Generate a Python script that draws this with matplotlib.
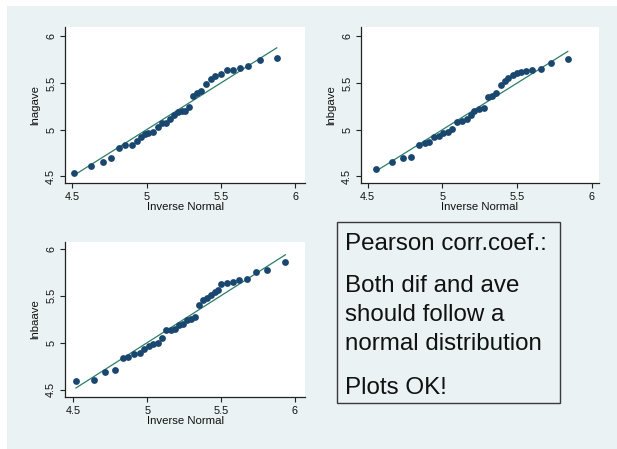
import matplotlib
matplotlib.use("Agg")
import matplotlib.pyplot as plt
from matplotlib.patches import Rectangle

plt.rcParams["font.family"] = ["Liberation Sans", "DejaVu Sans"]

# Normal quantile plots: inverse-normal quantiles vs sorted log values
inv_norm_ag = [4.511, 4.628, 4.709, 4.760, 4.812, 4.857, 4.902, 4.933, 4.960, 4.987,
               5.013, 5.045, 5.076, 5.103, 5.130, 5.157, 5.184, 5.211, 5.238, 5.261,
               5.288, 5.310, 5.338, 5.365, 5.400, 5.432, 5.459, 5.499, 5.540, 5.580,
               5.630, 5.686, 5.764, 5.877]
lnagave = [4.536, 4.614, 4.649, 4.692, 4.799, 4.841, 4.841, 4.884, 4.927, 4.955,
           4.962, 4.976, 5.026, 5.069, 5.076, 5.119, 5.161, 5.190, 5.204, 5.204,
           5.239, 5.360, 5.389, 5.410, 5.488, 5.545, 5.574, 5.595, 5.638, 5.638,
           5.666, 5.680, 5.744, 5.773]

inv_norm_bg = [4.558, 4.662, 4.740, 4.793, 4.842, 4.882, 4.913, 4.944, 4.976, 5.007,
               5.038, 5.064, 5.096, 5.131, 5.162, 5.189, 5.211, 5.242, 5.278, 5.304,
               5.331, 5.358, 5.393, 5.416, 5.442, 5.469, 5.496, 5.527, 5.558, 5.602,
               5.660, 5.727, 5.838]
lnbgave = [4.582, 4.649, 4.692, 4.706, 4.841, 4.855, 4.870, 4.919, 4.934, 4.962,
           4.976, 5.012, 5.083, 5.090, 5.119, 5.161, 5.204, 5.218, 5.232, 5.346,
           5.360, 5.396, 5.474, 5.524, 5.552, 5.581, 5.602, 5.623, 5.630, 5.638,
           5.652, 5.716, 5.758]

inv_norm_ba = [4.518, 4.640, 4.717, 4.780, 4.834, 4.870, 4.911, 4.951, 4.978, 5.010,
               5.041, 5.072, 5.099, 5.126, 5.158, 5.189, 5.217, 5.244, 5.267, 5.298,
               5.321, 5.353, 5.375, 5.402, 5.429, 5.456, 5.479, 5.502, 5.538, 5.578,
               5.619, 5.678, 5.736, 5.813, 5.935]
lnbaave = [4.589, 4.606, 4.684, 4.713, 4.840, 4.847, 4.883, 4.890, 4.933, 4.968,
           4.982, 4.996, 5.046, 5.131, 5.131, 5.145, 5.188, 5.195, 5.238, 5.252,
           5.273, 5.401, 5.457, 5.479, 5.507, 5.543, 5.564, 5.628, 5.635, 5.649,
           5.663, 5.677, 5.748, 5.777, 5.862]

ticks = [4.5, 5, 5.5, 6]
tick_labels = ["4.5", "5", "5.5", "6"]
x_title = "Inverse Normal"

note_lines = ["Pearson corr.coef.:", "Both dif and ave", "should follow a",
              "normal distribution", "Plots OK!"]

BG = "#EAF2F3"
NAVY = "#1A476F"
REF = "#2C7D66"
AXC = "#222222"

W, H = 617, 449
fig = plt.figure(figsize=(W / 100, H / 100), dpi=100, facecolor="white")

# graph region background, kept behind every axes
fig.patches.append(Rectangle((7 / W, 0), 1 - 7 / W, (H - 6) / H,
                             transform=fig.transFigure, facecolor=BG,
                             edgecolor="none", zorder=-10))


def px_axes(left, top, right, bottom):
    return [left / W, (H - bottom) / H, (right - left) / W, (bottom - top) / H]


def qq_panel(rect, xs, ys, ylabel, xlim, ylim):
    ax = fig.add_axes(rect)
    ax.set_zorder(2)
    ax.set_facecolor("white")
    lo, hi = min(xs), max(xs)
    ax.plot([lo, hi], [lo, hi], color=REF, lw=0.9, zorder=2)
    ax.plot(xs, ys, "o", color=NAVY, ms=4.9, mec=NAVY, mew=0, zorder=3)
    ax.set_xlim(*xlim)
    ax.set_ylim(*ylim)
    ax.set_xticks(ticks)
    ax.set_xticklabels(tick_labels)
    ax.set_yticks(ticks)
    ax.set_yticklabels(tick_labels, rotation=90, va="center")
    for s in ("top", "right"):
        ax.spines[s].set_visible(False)
    for s in ("left", "bottom"):
        ax.spines[s].set_color(AXC)
        ax.spines[s].set_linewidth(0.9)
    ax.tick_params(axis="both", direction="out", length=3.8, width=0.8,
                   color=AXC, labelsize=7.8, labelcolor="#111111")
    ax.tick_params(axis="x", pad=2.5)
    ax.tick_params(axis="y", pad=2.5)
    ax.set_xlabel(x_title, fontsize=8.2, labelpad=0.5, color="#111111")
    ax.set_ylabel(ylabel, fontsize=8.2, labelpad=4, color="#111111")
    return ax


qq_panel(px_axes(65, 27, 305, 183), inv_norm_ag, lnagave, "lnagave",
         (4.451, 6.067), (4.429, 6.1))
qq_panel(px_axes(361, 27, 599, 183), inv_norm_bg, lnbgave, "lnbgave",
         (4.456, 6.047), (4.429, 6.1))
qq_panel(px_axes(65, 242, 305, 397), inv_norm_ba, lnbaave, "lnbaave",
         (4.444, 6.068), (4.422, 6.071))

# note box
fig.patches.append(Rectangle((337 / W, (H - 403) / H), (560 - 337) / W, (403 - 222) / H,
                             transform=fig.transFigure, facecolor=BG,
                             edgecolor="#3a3a3a", lw=1.0, zorder=-5))
baselines = [250, 292.5, 321, 350, 394]
for txt, yb in zip(note_lines, baselines):
    fig.text(345 / W, (H - yb) / H, txt, fontsize=17.4, va="baseline",
             ha="left", color="#111111")

fig.savefig("out.png", dpi=100, facecolor="white")
